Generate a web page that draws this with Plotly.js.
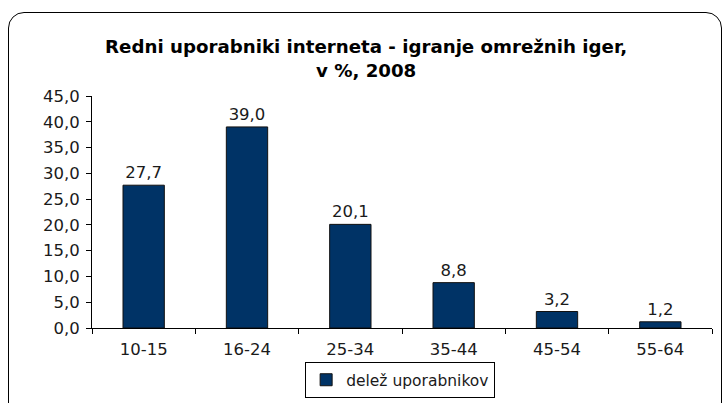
<!DOCTYPE html>
<html>
<head>
<meta charset="utf-8">
<script src="https://cdn.plot.ly/plotly-3.0.1.min.js"></script>
<style>
  html, body { margin: 0; padding: 0; background: #ffffff; }
  #frame { position: absolute; left: 8px; top: 12px; width: 714px; height: 420px;
           border: 1.3px solid #000; border-radius: 16px; box-sizing: border-box; }
  #chart { position: absolute; left: 0; top: 0; width: 725px; height: 403px; }
</style>
</head>
<body>
<div id="frame"></div>
<div id="chart"></div>
<script>
const categories = ["10-15", "16-24", "25-34", "35-44", "45-54", "55-64"];
const values = [27.7, 39.0, 20.1, 8.8, 3.2, 1.2];
const valueLabels = ["27,7", "39,0", "20,1", "8,8", "3,2", "1,2"];
const tickVals = [0, 5, 10, 15, 20, 25, 30, 35, 40, 45];
const tickText = ["0,0", "5,0", "10,0", "15,0", "20,0", "25,0", "30,0", "35,0", "40,0", "45,0"];
const seriesName = "delež uporabnikov";

const font = "'DejaVu Sans', Verdana, sans-serif";
const fsize = 16.5;
const fcolor = "#1a1a1a";

const trace = {
  type: "bar",
  x: categories,
  y: values,
  name: seriesName,
  text: valueLabels,
  textposition: "outside",
  cliponaxis: false,
  textfont: { family: font, size: fsize, color: fcolor },
  marker: { color: "#003366", line: { color: "#111", width: 1 } },
  width: 0.4,
  hoverinfo: "skip"
};

const layout = {
  width: 725, height: 403,
  margin: { l: 92, r: 13, t: 96, b: 75 },
  paper_bgcolor: "rgba(0,0,0,0)",
  plot_bgcolor: "rgba(0,0,0,0)",
  font: { family: font, size: fsize, color: fcolor },
  title: {
    text: "<b>Redni uporabniki interneta - igranje omrežnih iger,<br>v %, 2008</b>",
    font: { family: "'DejaVu Sans', Verdana, sans-serif", size: 18.2, color: "#000" },
    x: 0.505, xanchor: "center", xref: "container",
    y: 0.868, yanchor: "middle", yref: "container"
  },
  xaxis: {
    type: "category",
    showline: true, linecolor: "#000", linewidth: 1,
    ticks: "outside", ticklen: 5, tickcolor: "#000",
    tickson: "boundaries",
    ticklabelstandoff: 6,
    showgrid: false, zeroline: false,
    tickfont: { family: font, size: fsize, color: fcolor },
    range: [-0.5, 5.5]
  },
  yaxis: {
    range: [0, 45],
    tickvals: tickVals, ticktext: tickText,
    showline: true, linecolor: "#000", linewidth: 1,
    ticks: "outside", ticklen: 5, tickcolor: "#000",
    ticklabelstandoff: 3,
    showgrid: false, zeroline: false,
    tickfont: { family: font, size: fsize, color: fcolor }
  },
  showlegend: true,
  legend: {
    orientation: "v",
    x: 0.497, xanchor: "center", xref: "paper",
    y: 0.012, yanchor: "bottom", yref: "container",
    bordercolor: "#000", borderwidth: 1,
    bgcolor: "#fff",
    itemwidth: 30,
    tracegroupgap: 0,
    font: { family: font, size: 15.5, color: fcolor }
  }
};

Plotly.newPlot("chart", [trace], layout, { displayModeBar: false, staticPlot: true });
</script>
</body>
</html>
